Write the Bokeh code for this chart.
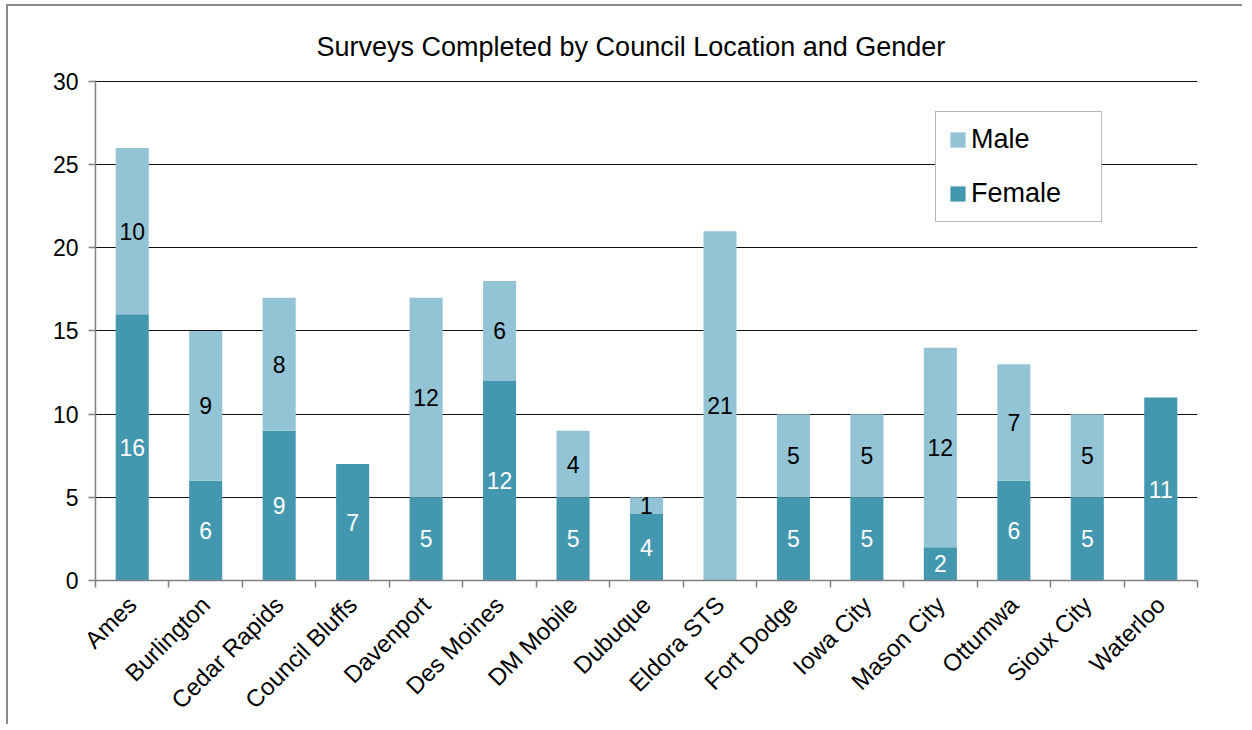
from math import pi
from bokeh.plotting import figure
from bokeh.models import (ColumnDataSource, Range1d, FixedTicker, Legend, LegendItem, Title)
from bokeh.core.properties import value
from bokeh.embed import file_html
from bokeh.resources import INLINE

categories = ["Ames", "Burlington", "Cedar Rapids", "Council Bluffs", "Davenport",
              "Des Moines", "DM Mobile", "Dubuque", "Eldora STS", "Fort Dodge",
              "Iowa City", "Mason City", "Ottumwa", "Sioux City", "Waterloo"]
female = [16, 6, 9, 7, 5, 12, 5, 4, 0, 5, 5, 2, 6, 5, 11]
male = [10, 9, 8, 0, 12, 6, 4, 1, 21, 5, 5, 12, 7, 5, 0]
y_ticks = [0, 5, 10, 15, 20, 25, 30]
title_text = "Surveys Completed by Council Location and Gender"

MALE_C = "#93C4D6"
FEMALE_C = "#4398B0"
FONT = "Liberation Sans"

xs = [i + 0.5 for i in range(len(categories))]
src = ColumnDataSource(dict(x=xs, cat=categories, female=female, male=male))

p = figure(width=1236, height=720, output_backend="svg", toolbar_location=None,
           x_range=Range1d(0, len(categories)), y_range=Range1d(0, 30.06),
           min_border_left=87, min_border_right=47, min_border_top=74, min_border_bottom=145,
           styles={"margin-left": "6px", "margin-top": "4px",
                   "border-left": "2px solid #8a8a8a", "border-top": "2px solid #8a8a8a"})
p.outline_line_color = None
p.background_fill_color = "white"
p.border_fill_color = "white"

rs = p.vbar_stack(["female", "male"], x="x", width=0.45, color=[FEMALE_C, MALE_C],
                  line_color=None, source=src)

# segment labels
fx, fy, ft = [], [], []
mx, my, mt = [], [], []
for x, f, m in zip(xs, female, male):
    if f:
        fx.append(x); fy.append(f / 2); ft.append(str(f))
    if m:
        mx.append(x); my.append(f + m / 2); mt.append(str(m))
p.text(x=fx, y=fy, text=ft, text_color="white", text_align="center", text_baseline="middle",
       text_font=value(FONT), text_font_size="23px")
p.text(x=mx, y=my, text=mt, text_color="black", text_align="center", text_baseline="middle",
       text_font=value(FONT), text_font_size="23px")

# axes
xa = p.xaxis[0]
xa.ticker = FixedTicker(ticks=xs, minor_ticks=list(range(len(categories) + 1)))
xa.major_label_overrides = {x: c for x, c in zip(xs, categories)}
xa.major_label_orientation = pi / 4
xa.major_tick_line_color = None
xa.minor_tick_out = 7
xa.minor_tick_in = 0
xa.minor_tick_line_color = "#808080"
xa.minor_tick_line_width = 1.5
xa.axis_line_color = "#808080"
xa.axis_line_width = 1.5
xa.major_label_text_font = FONT
xa.major_label_text_font_size = "24px"
xa.major_label_text_color = "black"
xa.major_label_standoff = 13

ya = p.yaxis[0]
ya.ticker = FixedTicker(ticks=y_ticks)
ya.major_tick_out = 7
ya.major_tick_in = 0
ya.major_tick_line_color = "#808080"
ya.major_tick_line_width = 1.5
ya.minor_tick_line_color = None
ya.axis_line_color = "#808080"
ya.axis_line_width = 1.5
ya.major_label_text_font = FONT
ya.major_label_text_font_size = "23px"
ya.major_label_text_color = "black"
ya.major_label_standoff = 10

p.xgrid.grid_line_color = None
p.ygrid.ticker = FixedTicker(ticks=y_ticks)
p.ygrid.grid_line_color = "#111111"
p.ygrid.grid_line_width = 1

# title
p.add_layout(Title(text=title_text, align="left", offset=221, standoff=38,
                   text_font=FONT, text_font_size="27px", text_font_style="normal",
                   text_color="black"), "above")

legend = Legend(items=[LegendItem(label="Male", renderers=[rs[1]]),
                       LegendItem(label="Female", renderers=[rs[0]])],
                location=(840, 358), orientation="vertical",
                label_text_font=FONT, label_text_font_size="27px", label_text_color="black",
                glyph_width=19, glyph_height=19, label_standoff=4,
                label_width=118, label_height=18, spacing=23, padding=12, margin=0,
                border_line_color="#707070", border_line_width=1.5,
                background_fill_color="white", background_fill_alpha=1)
p.add_layout(legend, "center")

open("out.html", "w").write(file_html(p, INLINE))
